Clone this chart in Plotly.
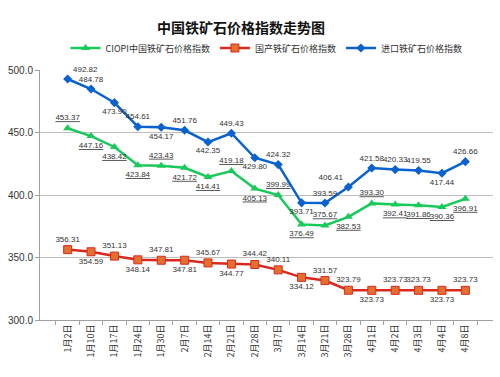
import plotly.graph_objects as go

categories = ["1月2日", "1月10日", "1月17日", "1月24日", "1月30日", "2月7日", "2月14日", "2月21日",
              "2月28日", "3月7日", "3月14日", "3月21日", "3月28日", "4月1日", "4月2日", "4月3日",
              "4月4日", "4月8日"]
ciopi = [453.37, 447.16, 438.42, 423.84, 423.43, 421.72, 414.41, 419.18, 405.13, 399.99,
         376.49, 375.67, 382.53, 393.30, 392.41, 391.86, 390.36, 396.91]
domestic = [356.31, 354.59, 351.13, 348.14, 347.81, 347.81, 345.67, 344.77, 344.42, 340.11,
            334.12, 331.57, 323.79, 323.73, 323.73, 323.73, 323.73, 323.73]
imported = [492.82, 484.78, 473.90, 454.61, 454.17, 451.76, 442.35, 449.43, 429.80, 424.32,
            393.71, 393.59, 406.41, 421.58, 420.33, 419.55, 417.44, 426.66]
y_ticks = [300, 350, 400, 450, 500]

T, B = "top center", "bottom center"
pos_ciopi = [T, B, B, B, T, B, B, T, B, T, B, T, B, T, B, B, B, B]
pos_dom = [T, B, T, B, T, B, T, B, T, T, B, T, T, B, T, T, B, T]
pos_imp = ["top right", T, B, T, B, T, B, T, B, T, B, T, "top left", T, T, T, B, T]

lblfont = dict(family="Liberation Sans, Arial", size=8, color="#333333")

fig = go.Figure()
fig.add_trace(go.Scatter(
    x=categories, y=ciopi, name="CIOPI中国铁矿石价格指数", mode="lines+markers+text",
    line=dict(color="#19C95A", width=2.5),
    marker=dict(symbol="triangle-up", size=8, color="#19C95A"),
    text=[f"{v:.2f}" for v in ciopi], textposition=pos_ciopi,
    textfont=dict(lblfont, lineposition="under"), cliponaxis=False))
fig.add_trace(go.Scatter(
    x=categories, y=domestic, name="国产铁矿石价格指数", mode="lines+markers+text",
    line=dict(color="#D9291F", width=2.5),
    marker=dict(symbol="square", size=8, color="#E3702F", line=dict(color="#D9291F", width=1)),
    text=[f"{v:.2f}" for v in domestic], textposition=pos_dom,
    textfont=lblfont, cliponaxis=False))
fig.add_trace(go.Scatter(
    x=categories, y=imported, name="进口铁矿石价格指数", mode="lines+markers+text",
    line=dict(color="#0A62CF", width=2.5),
    marker=dict(symbol="diamond", size=7, color="#0A62CF"),
    text=[f"{v:.2f}" for v in imported], textposition=pos_imp,
    textfont=lblfont, cliponaxis=False))

fig.update_layout(
    width=500, height=377,
    margin=dict(l=40, r=7, t=70, b=57),
    paper_bgcolor="white", plot_bgcolor="white",
    title=dict(text="<b>中国铁矿石价格指数走势图</b>", x=0.482, xanchor="center",
               y=1 - 28 / 377, yanchor="middle", yref="container",
               font=dict(family="Noto Sans CJK SC", size=14, color="#111111")),
    legend=dict(orientation="h", x=0.5, xanchor="center", y=1.088, yanchor="middle",
                font=dict(family="Noto Sans CJK SC", size=9, color="#333333"),
                itemwidth=30, tracegroupgap=0, bgcolor="rgba(0,0,0,0)"),
    showlegend=True,
)
fig.update_xaxes(
    type="category", tickangle=-90, tickson="boundaries", ticks="outside", ticklen=4,
    tickcolor="#A0A0A0", showline=True, linecolor="#A0A0A0", linewidth=1, showgrid=False,
    tickfont=dict(family="Noto Sans CJK SC", size=9, color="#333333"))
fig.update_yaxes(
    range=[300, 500], tickvals=y_ticks, ticktext=[f"{v:.1f}" for v in y_ticks],
    showgrid=True, gridcolor="#BFBFBF", gridwidth=1, showline=True, linecolor="#A0A0A0",
    ticks="outside", ticklen=4, tickcolor="#A0A0A0", zeroline=False,
    tickfont=dict(family="Liberation Sans, Arial", size=10, color="#333333"))

fig.write_html("out.html", config={"displayModeBar": False},
               post_script="document.body.style.margin='0';document.body.style.overflow='hidden';")
